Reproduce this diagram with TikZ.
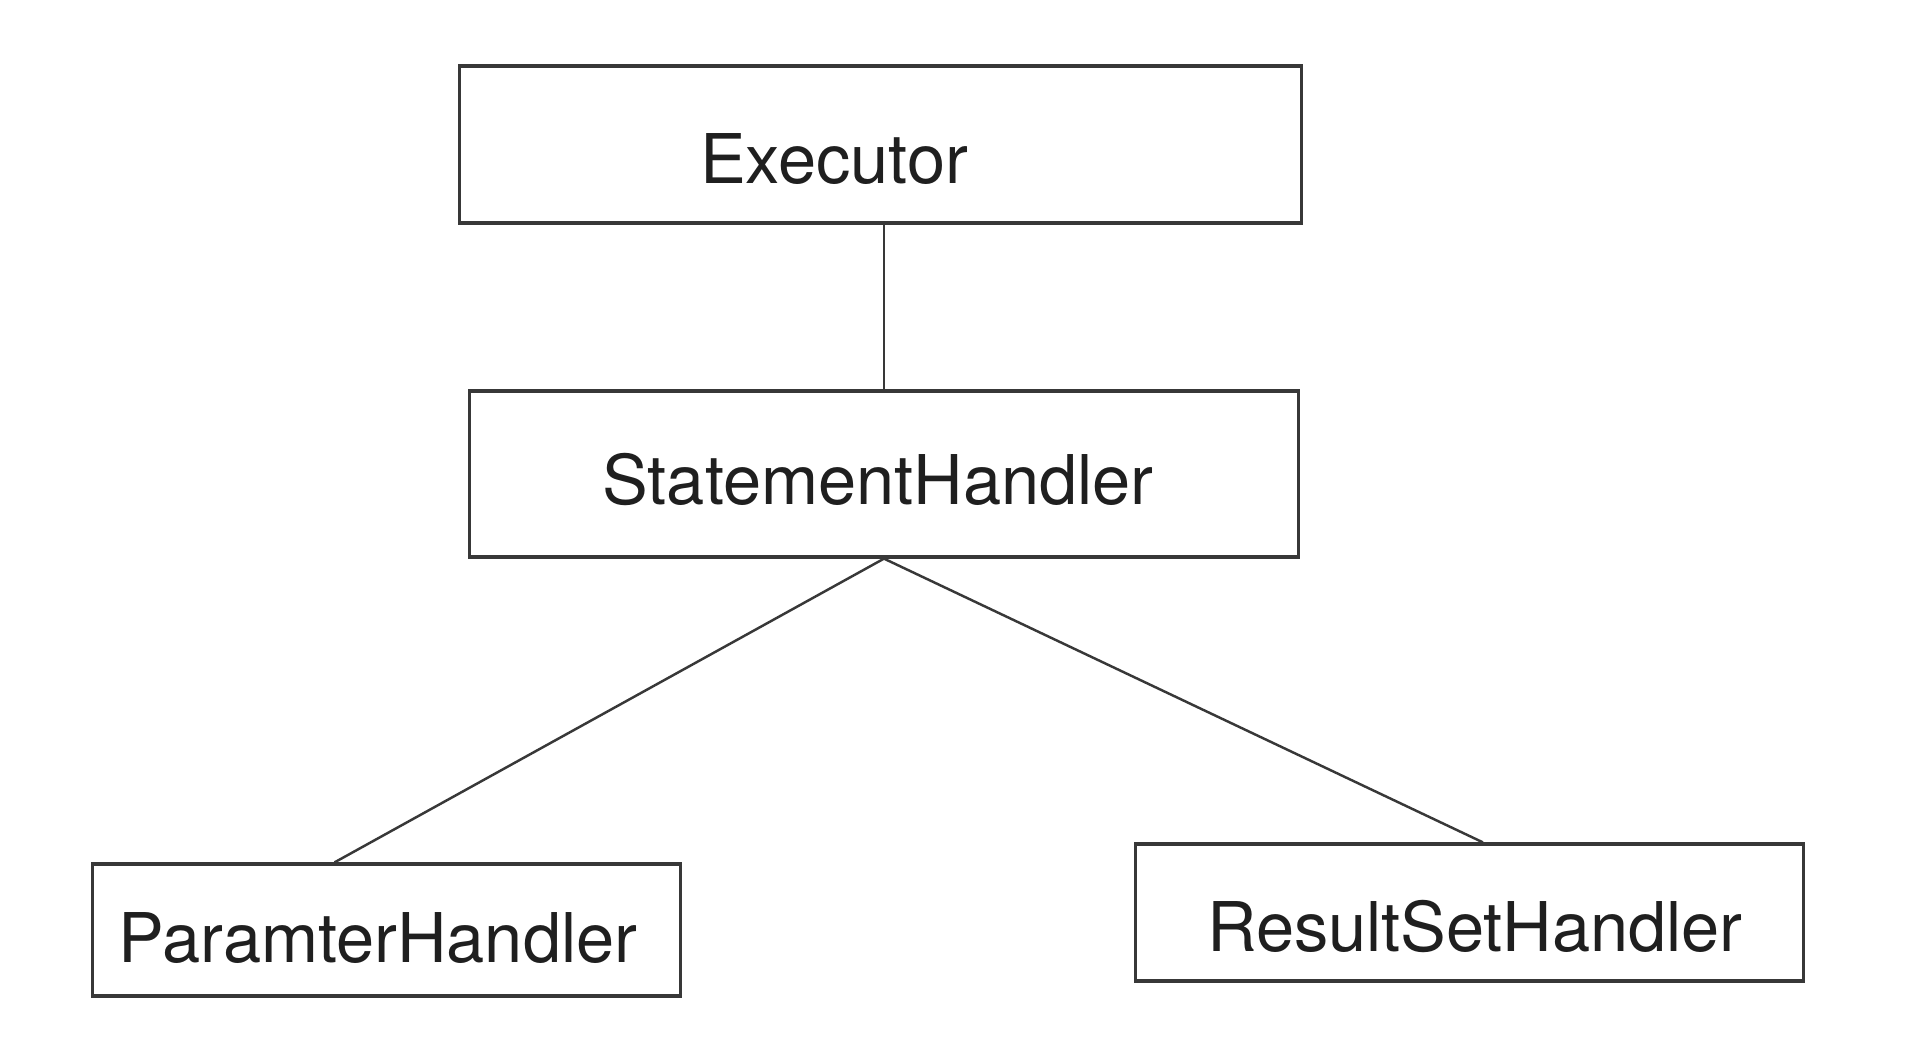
\documentclass[tikz,border=0pt]{standalone}
\usepackage{fontspec}
\setmainfont{TeX Gyre Heros}
\usetikzlibrary{calc}
\definecolor{boxline}{HTML}{383838}

\tikzset{
  classbox/.style={draw=boxline, line width=0.9pt, inner sep=0pt},
  classname/.style={font=\fontsize{19.5}{22}\selectfont, text=black!88, inner sep=0pt},
  link/.style={draw=boxline, line width=0.7pt}
}

\begin{document}
\begin{tikzpicture}[x=0.01cm,y=-0.01cm]
  \useasboundingbox (0,0) rectangle (1918,1058);
  % boxes
  \node[classbox, minimum width=8.41cm, minimum height=1.57cm] (executor) at (880.5,144.5) {};
  \node[classbox, minimum width=8.28cm, minimum height=1.66cm] (stmt) at (884,474) {};
  \node[classbox, minimum width=5.87cm, minimum height=1.32cm] (param) at (386.5,930) {};
  \node[classbox, minimum width=6.67cm, minimum height=1.37cm] (result) at (1469.5,912.5) {};
  % names
  \node[classname] (executorname) at (834,159) {Executor};
  \node[classname] (stmtname) at (878,480) {StatementHandler};
  \node[classname] (paramname) at (378,938) {ParamterHandler};
  \node[classname] (resultname) at (1475,926) {ResultSetHandler};
  % links
  \draw[link] (stmt.north |- executor.south) -- (stmt.north);
  \draw[link] (stmt.south) -- ($(param.north west)!0.412!(param.north east)$);
  \draw[link] (stmt.south) -- ($(result.north west)!0.52!(result.north east)$);
\end{tikzpicture}
\end{document}
